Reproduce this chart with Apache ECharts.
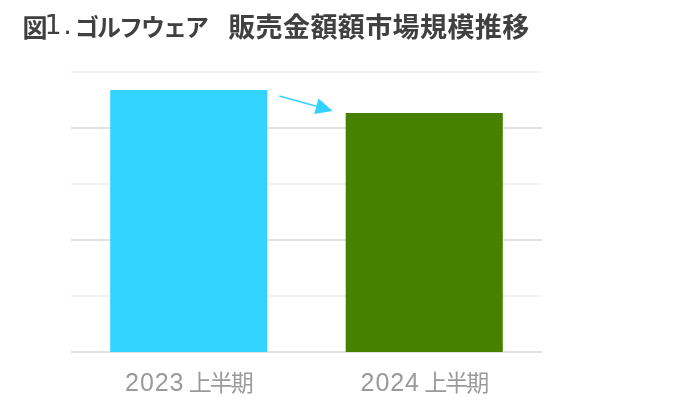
<!DOCTYPE html>
<html>
<head>
<meta charset="utf-8">
<script src="https://cdn.jsdelivr.net/npm/echarts@6/dist/echarts.min.js"></script>
<style>
html,body{margin:0;padding:0;background:#fff;}
#c{width:700px;height:417px;}
</style>
</head>
<body>
<div id="c"></div>
<script>
var titleParts = ['図', '1.', 'ゴルフウェア', '販売金額額市場規模推移'];
var categories = ['2023 上半期', '2024 上半期'];
var values = [4.68, 4.27];
var barColors = ['#33d3ff', '#468200'];
var yMax = 5;

function charsTo(style, s) {
  return s.split('').map(function (c) { return '{' + style + '|' + c + '}'; }).join('');
}
function labelRich(s) {
  return s.split('').map(function (c) {
    if (c === ' ') return '{sp| }';
    if (/[0-9]/.test(c)) return '{d|' + c + '}';
    return '{k|' + c + '}';
  }).join('');
}

var CJK = '"Noto Sans CJK JP", sans-serif';
var titleText = '{a|' + titleParts[0] + '}' + '{n1|' + titleParts[1][0] + '}' + '{n2|' + titleParts[1][1] + '}' +
  charsTo('kana', titleParts[2]) + '{gap| }' + charsTo('kan', titleParts[3]);

var chart = echarts.init(document.getElementById('c'), null, {renderer: 'canvas'});
var option = {
  animation: false,
  backgroundColor: '#ffffff',
  title: {
    left: 18, top: 7,
    text: titleText,
    textStyle: {
      rich: {
        a: {fontFamily: CJK, fontWeight: 'bold', fontSize: 25, width: 24, align: 'center', color: '#404040', lineHeight: 30},
        n1: {fontFamily: 'DejaVu Sans', fontWeight: 'normal', fontSize: 27, width: 12, align: 'center', color: '#404040', lineHeight: 30},
        n2: {fontFamily: 'DejaVu Sans', fontWeight: 'normal', fontSize: 27, width: 17, align: 'center', color: '#404040', lineHeight: 30},
        kana: {fontFamily: CJK, fontWeight: 'bold', fontSize: 24, width: 22, align: 'center', color: '#404040', lineHeight: 30},
        gap: {fontSize: 10, width: 20, lineHeight: 30},
        kan: {fontFamily: CJK, fontWeight: 'bold', fontSize: 27, width: 27.4, align: 'center', color: '#404040', lineHeight: 30}
      }
    }
  },
  grid: {left: 71, right: 158, top: 72, bottom: 65, containLabel: false},
  xAxis: {
    type: 'category',
    data: categories,
    axisLine: {show: false},
    axisTick: {show: false},
    axisLabel: {
      interval: 0,
      margin: 19,
      formatter: function (v) { return labelRich(v); },
      rich: {
        d: {fontFamily: 'Liberation Sans', fontSize: 25, width: 14.8, align: 'center', color: '#9a9a9a'},
        sp: {fontSize: 10, width: 6},
        k: {fontFamily: CJK, fontSize: 23, width: 21, align: 'center', color: '#9a9a9a', padding: [0, 0, 4, 0]}
      }
    }
  },
  yAxis: {
    type: 'value',
    min: 0, max: yMax, interval: 1,
    axisLabel: {show: false},
    axisLine: {show: false},
    axisTick: {show: false},
    splitLine: {show: true, lineStyle: {color: ['#e2e2e2', '#f2f2f2'], width: 2}}
  },
  series: [{
    type: 'bar',
    barWidth: '66.7%',
    data: values.map(function (v, i) { return {value: v, itemStyle: {color: barColors[i]}}; })
  }]
};
chart.setOption(option);

// arrow annotation anchored to bar tops
var p0 = chart.convertToPixel({seriesIndex: 0}, [0, values[0]]);
var p1 = chart.convertToPixel({seriesIndex: 0}, [1, values[1]]);
var catW = p1[0] - p0[0];
var halfBar = catW * 0.667 / 2;
var start = [p0[0] + halfBar + 12, p0[1] + 6];
var tip = [p1[0] - halfBar - 13, p1[1] - 2];
var dx = tip[0] - start[0], dy = tip[1] - start[1];
var len = Math.sqrt(dx * dx + dy * dy);
var ux = dx / len, uy = dy / len;
var headL = 17, headW = 8;
var base = [tip[0] - ux * headL, tip[1] - uy * headL];
chart.setOption({
  graphic: [
    {type: 'line', shape: {x1: start[0], y1: start[1], x2: base[0] + ux * 2, y2: base[1] + uy * 2}, style: {stroke: '#33d3ff', lineWidth: 1.6}},
    {type: 'polygon', shape: {points: [tip, [base[0] - uy * headW, base[1] + ux * headW], [base[0] + uy * headW, base[1] - ux * headW]]}, style: {fill: '#33d3ff'}}
  ]
});
</script>
</body>
</html>
